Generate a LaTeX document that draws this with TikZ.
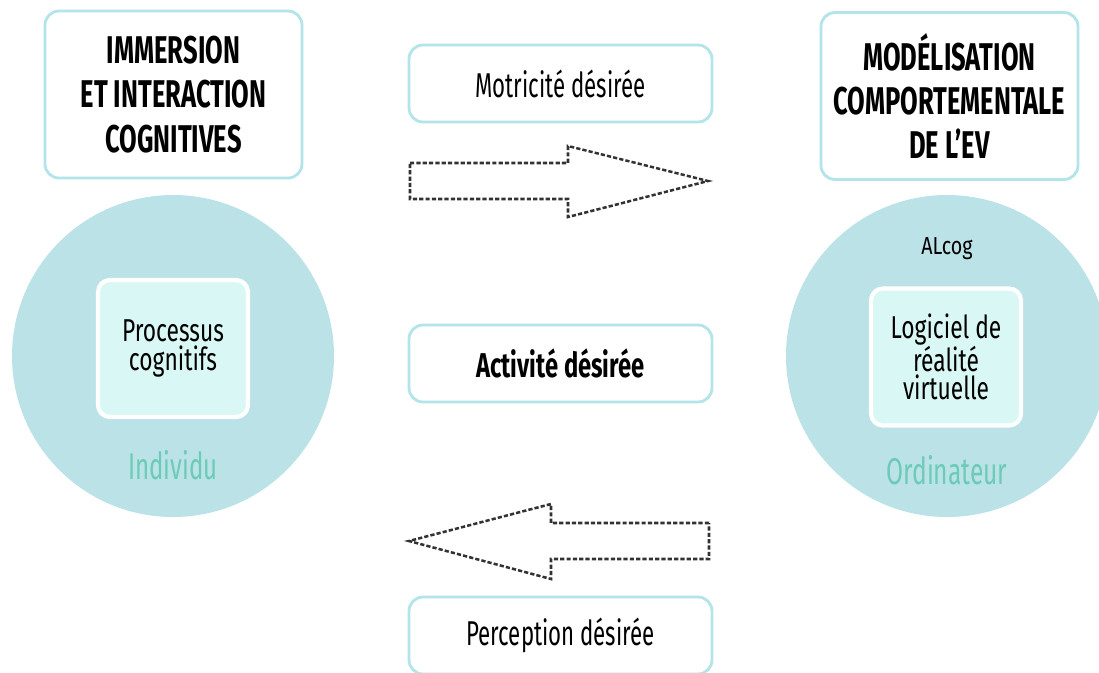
\documentclass[tikz,border=0pt]{standalone}
\usepackage{fontspec}
\setmainfont{Fira Sans}[FakeStretch=0.645]
\newfontfamily\headfont{Fira Sans}[FakeStretch=0.66]
\newfontfamily\midfont{Fira Sans}[FakeStretch=0.69]
\newfontfamily\corefont{Fira Sans}[FakeStretch=0.72]
\newfontfamily\tagfont{Fira Sans}[FakeStretch=0.8]
\definecolor{framecyan}{RGB}{178,228,234}
\definecolor{discfill}{RGB}{186,226,231}
\definecolor{corefill}{RGB}{217,247,244}
\definecolor{labelteal}{RGB}{108,203,184}
\definecolor{dashgray}{RGB}{50,50,50}
\def\px{0.025cm}

\begin{document}
\begin{tikzpicture}[x=0.025cm, y=-0.025cm,
    titlebox/.style={draw=framecyan, line width=2pt, rounded corners=0.35cm, fill=white,
        minimum width=257*\px, minimum height=167*\px, align=center, inner sep=0pt,
        font=\headfont\bfseries\fontsize{27.5}{31.5}\selectfont},
    flowbox/.style={draw=framecyan, line width=2pt, rounded corners=0.35cm, fill=white,
        minimum width=303*\px, minimum height=77*\px, inner sep=0pt,
        font=\fontsize{24.5}{28}\selectfont},
    disc/.style={circle, fill=discfill, minimum size=322*\px, inner sep=0pt},
    core/.style={draw=white, line width=3pt, rounded corners=0.3cm, fill=corefill,
        minimum width=150*\px, minimum height=137*\px, align=center, inner sep=0pt,
        font=\corefont\fontsize{22.5}{20}\selectfont},
    agent/.style={text=labelteal, font=\fontsize{26.5}{30}\selectfont},
    fatarrow/.style={draw=dashgray, line width=1.8pt, dash pattern=on 3pt off 1.5pt}]
\useasboundingbox (0,0) rectangle (1099,672);
\begin{scope}
    % Define nodes
    \draw (173.5, 94.5) node[titlebox] (T1) {IMMERSION\\ET INTERACTION\\COGNITIVES};
    \draw (949.5, 96) node[titlebox] (T2) {MODÉLISATION\\COMPORTEMENTALE\\DE L’EV};
    \draw (173, 356) node[disc] (C1) {};
    \draw (947, 356) node[disc] (C2) {};
    \draw (173, 348.5) node[core] (P1) {Processus\\cognitifs};
    \draw (946, 357) node[core] (P2) {Logiciel de\\réalité\\virtuelle};
    \draw (173, 465) node[agent] (L1) {Individu};
    \draw (947, 470) node[agent, font=\headfont\fontsize{26.5}{30}\selectfont] (L2) {Ordinateur};
    \draw (947, 249) node[font=\tagfont\fontsize{17.5}{20}\selectfont] (L3) {ALcog};
    \draw (560.5, 83.5) node[flowbox] (M1) {Motricité désirée};
    \draw (560.5, 363.5) node[flowbox, font=\midfont\bfseries\fontsize{24.5}{28}\selectfont] (M2) {Activité désirée};
    \draw (560.5, 635.5) node[flowbox] (M3) {Perception désirée};

    % hollow arrows
    \draw[fatarrow] (410, 163) -- (568, 163) -- (568, 146) -- (708, 181)
        -- (568, 217) -- (568, 199) -- (410, 199) -- cycle;
    \draw[fatarrow] (709, 523) -- (551, 523) -- (551, 504) -- (409, 541)
        -- (551, 579) -- (551, 559) -- (709, 559) -- cycle;
\end{scope}
\end{tikzpicture}
\end{document}
